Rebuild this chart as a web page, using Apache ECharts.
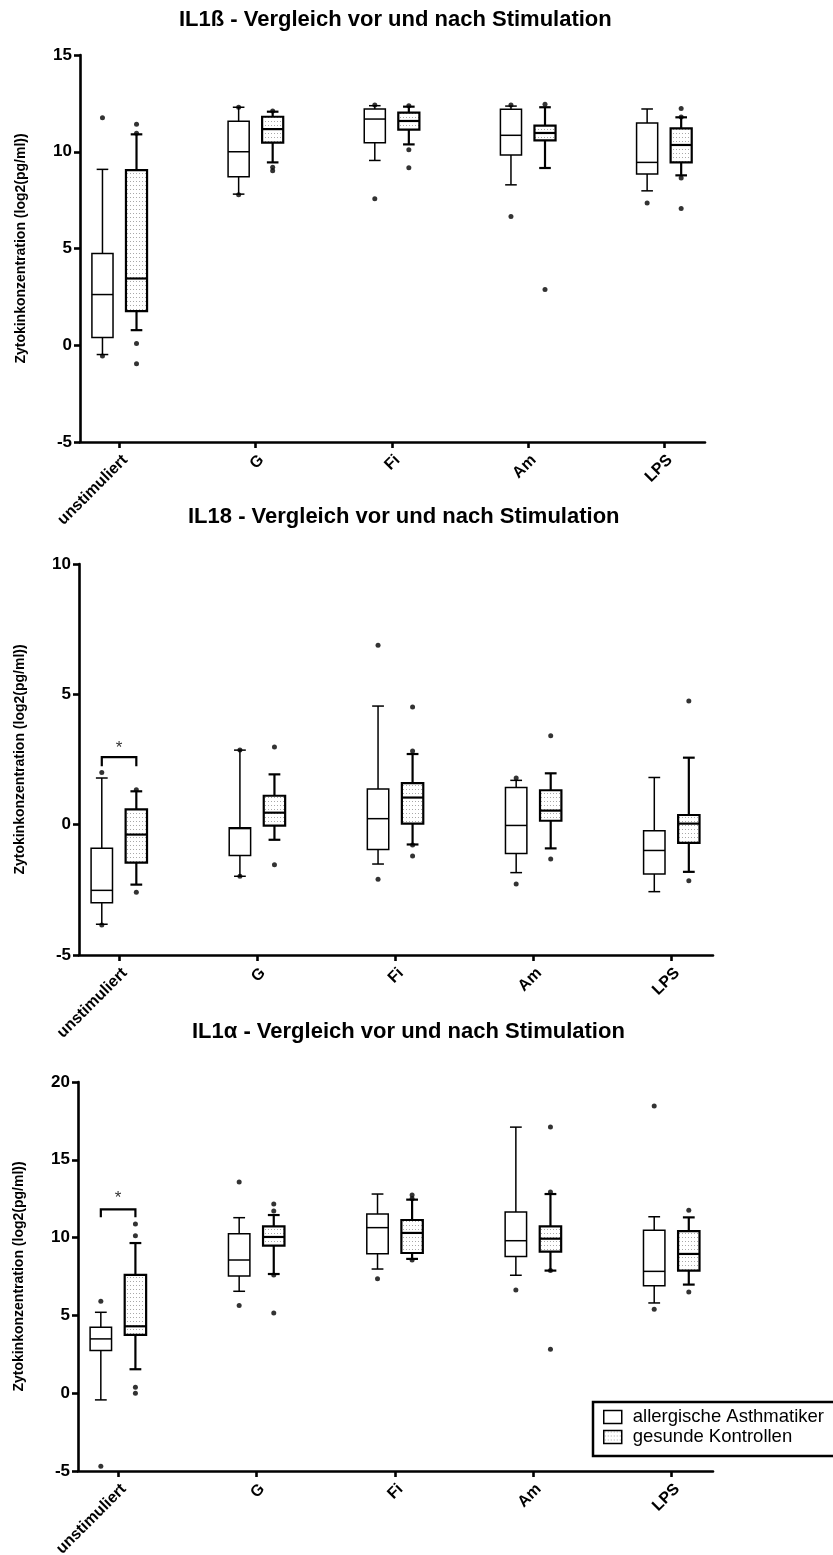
<!DOCTYPE html>
<html>
<head>
<meta charset="utf-8">
<script src="https://cdn.jsdelivr.net/npm/echarts@6/dist/echarts.min.js"></script>
<style>
html, body { margin: 0; padding: 0; background: #fff; }
#chart { width: 833px; height: 1555px; }
</style>
</head>
<body>
<div id="chart"></div>
<script>
// categories on the x axis (same for all three panels)
const categories = ['unstimuliert', 'G', 'Fi', 'Am', 'LPS'];
const groupNames = ['allergische Asthmatiker', 'gesunde Kontrollen'];

// boxes: [lower whisker, Q1, median, Q3, upper whisker] per category
// single points: [category index, value]

// IL1ß
const il1bAsthma = [
  [-0.48, 0.40, 2.62, 4.74, 9.09],
  [7.81, 8.71, 10.0, 11.57, 12.30],
  [9.55, 10.47, 11.69, 12.21, 12.38],
  [8.29, 9.83, 10.85, 12.19, 12.36],
  [7.98, 8.85, 9.45, 11.48, 12.21]
];
const il1bAsthmaDots = [[0, 11.76], [0, -0.55], [1, 12.30], [1, 7.78], [2, 12.42], [2, 7.57], [3, 12.42], [3, 6.66], [4, 7.35]];
const il1bKontrolle = [
  [0.78, 1.76, 3.45, 9.05, 10.90],
  [9.45, 10.47, 11.17, 11.81, 12.07],
  [10.38, 11.14, 11.59, 12.02, 12.33],
  [9.16, 10.59, 10.97, 11.35, 12.30],
  [8.78, 9.45, 10.35, 11.21, 11.78]
];
const il1bKontrolleDots = [[0, 11.42], [0, 10.95], [0, 0.09], [0, -0.95], [1, 12.10], [1, 9.20], [1, 9.02], [2, 12.38], [2, 10.10], [2, 9.17], [3, 12.45], [3, 2.88], [4, 12.24], [4, 11.80], [4, 8.64], [4, 7.07]];

// IL18
const il18Asthma = [
  [-3.82, -3.00, -2.52, -0.90, 1.79],
  [-1.98, -1.18, -0.15, -0.12, 2.86],
  [-1.51, -0.95, 0.23, 1.37, 4.55],
  [-1.84, -1.11, -0.03, 1.43, 1.70],
  [-2.57, -1.89, -0.99, -0.23, 1.81]
];
const il18AsthmaDots = [[0, 2.00], [0, -3.85], [1, 2.86], [1, -1.98], [2, 6.88], [2, -2.09], [3, 1.79], [3, -2.28]];
const il18Kontrolle = [
  [-2.30, -1.46, -0.38, 0.59, 1.28],
  [-0.58, -0.04, 0.46, 1.11, 1.93],
  [-0.76, 0.04, 1.04, 1.59, 2.71],
  [-0.91, 0.15, 0.54, 1.32, 1.97],
  [-1.81, -0.70, 0.04, 0.37, 2.57]
];
const il18KontrolleDots = [[0, 1.34], [0, -2.59], [1, 2.98], [1, -1.54], [2, 4.51], [2, 2.83], [2, -0.78], [2, -1.20], [3, 3.41], [3, -1.32], [4, 4.74], [4, -2.15]];
const il18Bracket = [2.24, 2.59, 2.92]; // leg end, bar, star

// IL1α
const il1aAsthma = [
  [-0.43, 2.74, 3.49, 4.24, 5.20],
  [6.55, 7.53, 8.56, 10.25, 11.28],
  [7.98, 8.97, 10.64, 11.52, 12.80],
  [7.58, 8.78, 9.80, 11.64, 17.10],
  [5.80, 6.91, 7.83, 10.47, 11.34]
];
const il1aAsthmaDots = [[0, 5.91], [0, -4.69], [1, 13.57], [1, 5.63], [2, 7.36], [3, 6.64], [4, 18.45], [4, 5.39]];
const il1aKontrolle = [
  [1.54, 3.75, 4.30, 7.60, 9.65],
  [7.66, 9.48, 10.04, 10.72, 11.45],
  [8.63, 9.01, 10.30, 11.13, 12.44],
  [7.88, 9.10, 9.93, 10.72, 12.80],
  [6.98, 7.88, 8.95, 10.42, 11.30]
];
const il1aKontrolleDots = [[0, 10.87], [0, 10.12], [0, 0.39], [0, 0.0], [1, 12.16], [1, 11.71], [1, 7.60], [1, 5.16], [2, 12.74], [2, 12.50], [2, 8.56], [3, 17.10], [3, 12.93], [3, 7.88], [3, 2.83], [4, 11.75], [4, 6.51]];
const il1aBracket = [11.30, 11.82, 12.54];

const font = '"Liberation Sans", Arial, sans-serif';
const boxWidth = 0.155;
const offset = 0.125;

// dotted fill for the control group
const dotCanvas = document.createElement('canvas');
dotCanvas.width = 3;
dotCanvas.height = 4;
const dctx = dotCanvas.getContext('2d');
dctx.fillStyle = '#fff';
dctx.fillRect(0, 0, 3, 4);
dctx.fillStyle = '#a8a8a8';
dctx.fillRect(1, 1, 1, 1);
const dotted = { image: dotCanvas, repeat: 'repeat' };

const panels = [
  { title: 'IL1ß - Vergleich vor und nach Stimulation', titleLeft: 179, titleTop: 9,
    min: -5, max: 15, grid: { left: 80, top: 55, width: 625, height: 387 },
    asthma: il1bAsthma, asthmaDots: il1bAsthmaDots, ctrl: il1bKontrolle, ctrlDots: il1bKontrolleDots, bracket: null },
  { title: 'IL18 - Vergleich vor und nach Stimulation', titleLeft: 188, titleTop: 506,
    min: -5, max: 10, grid: { left: 79, top: 564, width: 634, height: 391 },
    asthma: il18Asthma, asthmaDots: il18AsthmaDots, ctrl: il18Kontrolle, ctrlDots: il18KontrolleDots, bracket: il18Bracket },
  { title: 'IL1α - Vergleich vor und nach Stimulation', titleLeft: 192, titleTop: 1021,
    min: -5, max: 20, grid: { left: 78, top: 1082, width: 635, height: 389 },
    asthma: il1aAsthma, asthmaDots: il1aAsthmaDots, ctrl: il1aKontrolle, ctrlDots: il1aKontrolleDots, bracket: il1aBracket }
];

function makeBox(shift, fill, lw) {
  return function (params, api) {
    const x = api.value(0) + shift;
    const lo = api.coord([x, api.value(1)]);
    const q1 = api.coord([x, api.value(2)]);
    const md = api.coord([x, api.value(3)]);
    const q3 = api.coord([x, api.value(4)]);
    const hi = api.coord([x, api.value(5)]);
    const w = api.size([boxWidth, 0])[0];
    const cap = w * 0.55;
    const cx = md[0];
    const line = (x1, y1, x2, y2) => ({
      type: 'line', shape: { x1, y1, x2, y2 }, style: { stroke: '#000', lineWidth: lw }
    });
    return {
      type: 'group',
      children: [
        line(cx, hi[1], cx, q3[1]),
        line(cx - cap / 2, hi[1], cx + cap / 2, hi[1]),
        line(cx, q1[1], cx, lo[1]),
        line(cx - cap / 2, lo[1], cx + cap / 2, lo[1]),
        { type: 'rect', shape: { x: cx - w / 2, y: q3[1], width: w, height: q1[1] - q3[1] },
          style: { fill: fill, stroke: '#000', lineWidth: lw } },
        line(cx - w / 2, md[1], cx + w / 2, md[1])
      ]
    };
  };
}

function renderBracket(params, api) {
  const a = api.coord([-offset, api.value(0)]);
  const b = api.coord([-offset, api.value(1)]);
  const c = api.coord([offset, api.value(1)]);
  const d = api.coord([offset, api.value(0)]);
  const s = api.coord([0, api.value(2)]);
  return {
    type: 'group',
    children: [
      { type: 'polyline', shape: { points: [a, b, c, d] }, style: { stroke: '#000', lineWidth: 2.2, fill: null } },
      { type: 'text', x: s[0], y: s[1],
        style: { text: '*', fontSize: 17, fontFamily: font, fill: '#333', align: 'center', verticalAlign: 'middle' } }
    ]
  };
}

const axisLineStyle = { color: '#000', width: 2.6 };
const grids = [], xAxes = [], yAxes = [], titles = [], series = [];

panels.forEach((p, i) => {
  grids.push(Object.assign({ outerBoundsMode: 'none', containLabel: false }, p.grid));
  titles.push({
    text: p.title, left: p.titleLeft, top: p.titleTop, padding: 0,
    textStyle: { fontFamily: font, fontSize: 22, fontWeight: 'bold', color: '#000' }
  });
  xAxes.push({
    gridIndex: i, type: 'value', min: -0.29, max: 4.3,
    splitLine: { show: false },
    axisLine: { onZero: false, lineStyle: axisLineStyle },
    axisTick: { customValues: [0, 1, 2, 3, 4], length: 6, lineStyle: axisLineStyle },
    axisLabel: {
      customValues: [0, 1, 2, 3, 4], formatter: (v) => categories[Math.round(v)],
      rotate: 45, margin: 10, align: 'right', verticalAlign: 'top',
      color: '#000', fontWeight: 'bold', fontSize: 16, fontFamily: font
    }
  });
  yAxes.push({
    gridIndex: i, type: 'value', min: p.min, max: p.max, interval: 5,
    splitLine: { show: false },
    axisLine: { show: true, onZero: false, lineStyle: axisLineStyle },
    axisTick: { show: true, length: 6, lineStyle: axisLineStyle },
    axisLabel: { margin: 8, color: '#000', fontWeight: 'bold', fontSize: 17, fontFamily: font },
    name: 'Zytokinkonzentration (log2(pg/ml))', nameLocation: 'middle', nameGap: 52,
    nameTextStyle: { fontWeight: 'bold', fontSize: 14, fontFamily: font, color: '#000' }
  });
  series.push({
    type: 'custom', name: groupNames[0], xAxisIndex: i, yAxisIndex: i, clip: false,
    renderItem: makeBox(-offset, '#fff', 1.5),
    encode: { x: 0, y: [1, 2, 3, 4, 5] },
    data: p.asthma.map((b, k) => [k].concat(b))
  });
  series.push({
    type: 'custom', name: groupNames[1], xAxisIndex: i, yAxisIndex: i, clip: false,
    renderItem: makeBox(offset, dotted, 2.2),
    encode: { x: 0, y: [1, 2, 3, 4, 5] },
    data: p.ctrl.map((b, k) => [k].concat(b))
  });
  series.push({
    type: 'scatter', xAxisIndex: i, yAxisIndex: i, symbolSize: 5, silent: true,
    itemStyle: { color: '#000' },
    data: p.asthmaDots.map((d) => [d[0] - offset, d[1]])
  });
  series.push({
    type: 'scatter', xAxisIndex: i, yAxisIndex: i, symbolSize: 5, silent: true,
    itemStyle: { color: '#000' },
    data: p.ctrlDots.map((d) => [d[0] + offset, d[1]])
  });
  if (p.bracket) {
    series.push({
      type: 'custom', xAxisIndex: i, yAxisIndex: i, clip: false,
      renderItem: renderBracket,
      encode: { x: -1, y: [0, 1, 2] },
      data: [p.bracket]
    });
  }
});

const chart = echarts.init(document.getElementById('chart'));
chart.setOption({
  animation: false,
  backgroundColor: '#fff',
  title: titles,
  grid: grids,
  xAxis: xAxes,
  yAxis: yAxes,
  legend: {
    left: 593, top: 1402, orient: 'vertical', selectedMode: false,
    data: [
      { name: groupNames[0], icon: 'rect', itemStyle: { color: '#fff', borderColor: '#000', borderWidth: 1.5 } },
      { name: groupNames[1], icon: 'rect', itemStyle: { color: dotted, borderColor: '#000', borderWidth: 1.5 } }
    ],
    itemWidth: 18, itemHeight: 13, itemGap: 0,
    textStyle: { fontFamily: font, fontSize: 18.5, color: '#000', padding: [0, 0, 0, 6], lineHeight: 20 },
    borderColor: '#000', borderWidth: 2.5, padding: [5, 40, 9, 10]
  },
  series: series
});
</script>
</body>
</html>
